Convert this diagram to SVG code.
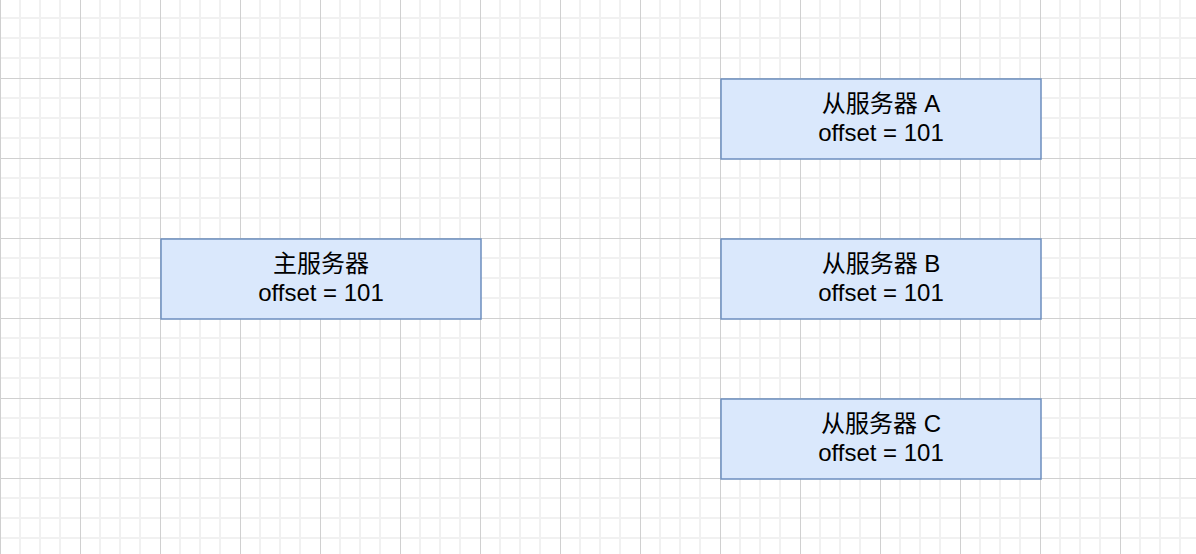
<svg xmlns="http://www.w3.org/2000/svg" width="1196" height="554" viewBox="0 0 1196 554">
  <style>
    .box { fill: #dae8fc; stroke: #6c8ebf; stroke-width: 1.5; }
    .lbl { font-family: "Liberation Sans", "Noto Sans CJK SC", sans-serif; font-size: 24px; fill: #000000; text-anchor: middle; }
  </style>
  <defs>
    <pattern id="grid" patternUnits="userSpaceOnUse" x="0" y="78" width="80" height="80">
      <path d="M20 0V80M40 0V80M60 0V80M0 20H80M0 40H80M0 60H80" stroke="#f1f1f1" stroke-width="2" fill="none"/>
      <path d="M0.5 0V80M0 0.5H80" stroke="#d0d0d0" stroke-width="1" fill="none"/>
    </pattern>
  </defs>
  <rect x="0" y="0" width="1196" height="554" fill="#ffffff"/>
  <rect x="0" y="0" width="1196" height="554" fill="url(#grid)"/>
  <g id="connectors"></g>
  <g id="master">
    <rect class="box" x="161" y="239" width="320" height="80"/>
    <text class="lbl" x="321" y="272">主服务器</text>
    <text class="lbl" x="321" y="301">offset = 101</text>
  </g>
  <g id="slaveA">
    <rect class="box" x="721" y="79" width="320" height="80"/>
    <text class="lbl" x="881" y="112">从服务器 A</text>
    <text class="lbl" x="881" y="141">offset = 101</text>
  </g>
  <g id="slaveB">
    <rect class="box" x="721" y="239" width="320" height="80"/>
    <text class="lbl" x="881" y="272">从服务器 B</text>
    <text class="lbl" x="881" y="301">offset = 101</text>
  </g>
  <g id="slaveC">
    <rect class="box" x="721" y="399" width="320" height="80"/>
    <text class="lbl" x="881" y="432">从服务器 C</text>
    <text class="lbl" x="881" y="461">offset = 101</text>
  </g>
</svg>
